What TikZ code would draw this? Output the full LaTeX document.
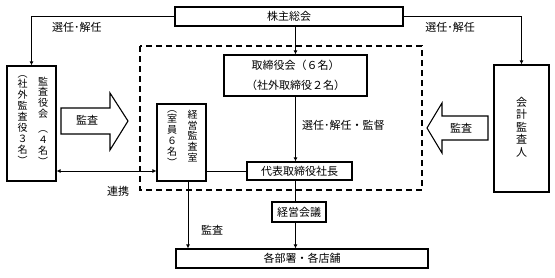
\documentclass[tikz,border=0pt]{standalone}
\usepackage{fontspec}
\setmainfont{Noto Sans CJK JP}
\usepackage{tikz}
\usetikzlibrary{positioning,arrows.meta,calc}

\begin{document}
\begin{tikzpicture}[x=1pt, y=-1pt,
  box/.style={draw, line width=1.1pt, fill=white, align=center, inner sep=0pt,
              font=\fontsize{11}{20}\selectfont},
  vcol/.style={align=center, inner sep=0pt, anchor=north, font=\fontsize{10}{10.9}\selectfont},
  arr/.style={-{Latex[length=4pt,width=4pt]}, line width=0.9pt},
  darr/.style={{Latex[length=4pt,width=4pt]}-{Latex[length=4pt,width=4pt]}, line width=0.9pt},
  ln/.style={line width=0.9pt},
  lab/.style={font=\fontsize{11}{13}\selectfont, inner sep=0pt},
  blk/.style={draw, line width=1.1pt, fill=white, line join=miter},
]
\useasboundingbox (0,0) rectangle (555,277);

% dashed frame
\draw[line width=1.2pt, dash pattern=on 6pt off 4pt] (140,46) rectangle (422,190);

\node[box, minimum width=228pt, minimum height=19pt] (soukai) at (289,16.5) {株主総会};
\node[box, minimum width=143pt, minimum height=41pt] (torishimari) at (295.5,75.5) {取締役会（６名）\\（社外取締役２名）};
\node[box, minimum width=105pt, minimum height=18pt] (daihyo) at (299.5,171) {代表取締役社長};
\node[box, minimum width=54pt, minimum height=20pt] (keiei) at (299,212) {経営会議};
\node[box, minimum width=252pt, minimum height=19pt] (kakubu) at (302,258.5) {各部署・各店舗};

% vertical boxes
\node[box, minimum width=49pt, minimum height=115pt] (kansayaku) at (31.5,123.5) {};
\node[vcol] (kansayakuA) at (43,76.5) {監\\査\\役\\会\\[4pt]︵\\４\\名\\︶};
\node[vcol] (kansayakuB) at (22.5,75) {︵\\社\\外\\監\\査\\役\\３\\名\\︶};
\node[box, minimum width=49pt, minimum height=77pt] (keieikansa) at (181.5,142.5) {};
\node[vcol] (keieikansaA) at (192.5,109.5) {経\\営\\監\\査\\室};
\node[vcol] (keieikansaB) at (172,110) {︵\\室\\員\\６\\名\\︶};
\node[box, minimum width=55pt, minimum height=127pt] (kaikei) at (521.5,128.5) {};
\node[vcol, font=\fontsize{11}{12.5}\selectfont] (kaikeiA) at (521.5,97) {会\\計\\監\\査\\人};

% block arrows
\draw[blk] (61,108) -- (110,108) -- (110,93) -- (128,121) -- (110,150) -- (110,134) -- (61,134) -- cycle;
\node[lab] (kansaL) at (87,120) {監査};
\draw[blk] (488,116) -- (442,116) -- (442,103) -- (427,128) -- (442,153) -- (442,140) -- (488,140) -- cycle;
\node[lab] (kansaR) at (461,128) {監査};

% connectors
\draw[arr] (soukai.west) -| (kansayaku.north);
\draw[arr] (soukai.east) -| (kaikei.north);
\draw[arr] (soukai.south -| torishimari.north) -- (torishimari.north);
\draw[arr] (torishimari.south) -- (torishimari.south |- daihyo.north);
\draw[ln] (keieikansa.east |- daihyo.west) -- (daihyo.west);
\draw[darr] (kansayaku.east |- daihyo.west) -- (keieikansa.west |- daihyo.west);
\draw[ln] (daihyo.south -| torishimari.south) -- (keiei.north -| torishimari.south);
\draw[arr] (keiei.south -| torishimari.south) -- (kakubu.north -| torishimari.south);
\draw[arr] ($(keieikansa.south)+(6.5,0)$) -- ($(keieikansa.south |- kakubu.north)+(6.5,0)$);

\node[lab] (senninL) at (77,27) {選任･解任};
\node[lab] (senninR) at (450,27) {選任･解任};
\node[lab, anchor=west] (kantoku) at (302,125) {選任･解任・監督};
\node[lab] (renkei) at (118,191) {連携};
\node[lab] (kansaD) at (212,230) {監査};
\end{tikzpicture}
\end{document}
